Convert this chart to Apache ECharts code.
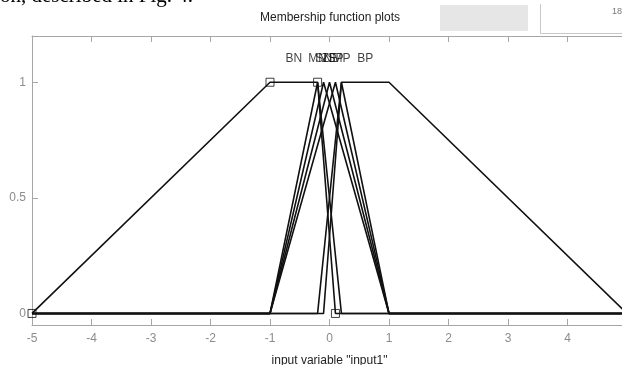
<!DOCTYPE html>
<html>
<head>
<meta charset="utf-8">
<script src="https://cdn.jsdelivr.net/npm/echarts@6/dist/echarts.min.js"></script>
<style>
  html, body { margin: 0; padding: 0; background: #fff; overflow: hidden; }
  #chart { width: 622px; height: 365px; }
</style>
</head>
<body>
<div id="chart"></div>
<script>
// Universe of discourse of the input variable
const xRange = [-5, 5];
const xTicks = [-5, -4, -3, -2, -1, 0, 1, 2, 3, 4, 5];
const yTicks = [0, 0.5, 1];

// Membership function names and parameters (trapmf: 4 params, trimf: 3 params)
const mfNames = ['BN', 'MN', 'SN', 'ZE', 'SP', 'MP', 'BP'];
const paramsBN = [-5, -1, -0.2, 0.1];
const paramsMN = [-1, -0.2, 0.2];
const paramsSN = [-1, -0.1, 1];
const paramsZE = [-1, 0, 1];
const paramsSP = [-1, 0.1, 1];
const paramsMP = [-0.2, 0.2, 1];
const paramsBP = [-0.1, 0.2, 1, 5];
const mfParams = [paramsBN, paramsMN, paramsSN, paramsZE, paramsSP, paramsMP, paramsBP];

// Selected function (vertices marked with squares)
const selectedMF = 'BN';

// Turn a trimf / trapmf parameter list into a polyline across the whole universe
function mfPolyline(p) {
  const pts = [];
  const grades = p.length === 3 ? [0, 1, 0] : [0, 1, 1, 0];
  if (p[0] > xRange[0]) pts.push([xRange[0], 0]);
  p.forEach((v, i) => pts.push([v, grades[i]]));
  if (p[p.length - 1] < xRange[1]) pts.push([xRange[1], 0]);
  return pts;
}
function mfPeak(p) {
  return p.length === 3 ? p[1] : (p[1] + p[2]) / 2;
}
function mfVertices(p) {
  const grades = p.length === 3 ? [0, 1, 0] : [0, 1, 1, 0];
  return p.map((v, i) => [v, grades[i]]);
}

const axisGray = '#a6a6a6';
const labelGray = '#8c8c8c';
const font = 'Liberation Sans, Arial, sans-serif';

const series = mfParams.map((p, i) => ({
  name: mfNames[i],
  type: 'line',
  data: mfPolyline(p),
  symbol: 'none',
  lineStyle: { color: '#111', width: 1.6 },
  animation: false,
  z: 3
}));

// Name tags above each function's peak
series.push({
  type: 'scatter',
  data: mfParams.map((p, i) => ({ value: [mfPeak(p), 1.1], name: mfNames[i] })),
  symbolSize: 0,
  label: {
    show: true, position: 'inside', formatter: d => d.name,
    color: '#111', fontSize: 12, fontFamily: font
  },
  animation: false,
  z: 4
});

// Square handles on the selected function's vertices
series.push({
  type: 'scatter',
  data: mfVertices(mfParams[mfNames.indexOf(selectedMF)]),
  symbol: 'rect',
  symbolSize: 8,
  itemStyle: { color: 'rgba(0,0,0,0)', borderColor: '#111', borderWidth: 1 },
  animation: false,
  z: 5
});

const chart = echarts.init(document.getElementById('chart'), null, { renderer: 'canvas' });
chart.setOption({
  backgroundColor: '#fff',
  animation: false,
  grid: { left: 32, right: -5, top: 36, bottom: 40, containLabel: false, outerBoundsMode: 'none' },
  xAxis: [{
    type: 'value', min: xRange[0], max: xRange[1], interval: 1,
    name: 'input variable "input1"', nameLocation: 'middle', nameGap: 30,
    nameTextStyle: { color: '#222', fontSize: 12, fontFamily: font },
    axisLine: { show: true, onZero: false, lineStyle: { color: axisGray, width: 1 } },
    axisTick: { show: true, inside: true, length: 6, lineStyle: { color: axisGray } },
    axisLabel: { show: true, color: labelGray, fontSize: 12, fontFamily: font, margin: 8,
      customValues: xTicks },
    splitLine: { show: false }
  }, {
    type: 'value', position: 'top', min: xRange[0], max: xRange[1], interval: 1,
    axisLine: { show: true, onZero: false, lineStyle: { color: axisGray, width: 1 } },
    axisTick: { show: true, inside: true, length: 6, lineStyle: { color: axisGray } },
    axisLabel: { show: false },
    splitLine: { show: false }
  }],
  yAxis: {
    type: 'value', min: -0.05, max: 1.2,
    axisLine: { show: true, onZero: false, lineStyle: { color: axisGray, width: 1 } },
    axisTick: { show: true, inside: true, length: 6, lineStyle: { color: axisGray },
      customValues: yTicks },
    axisLabel: { show: true, color: labelGray, fontSize: 12, fontFamily: font, margin: 6,
      customValues: yTicks },
    splitLine: { show: false }
  },
  series: series,
  graphic: [
    {
      type: 'text', left: 0, top: -14, silent: true,
      style: { text: 'on, described in Fig. 4.', font: '21px "Liberation Serif", serif', fill: '#000' }
    },
    {
      type: 'text', x: 330, y: 18, silent: true,
      style: { text: 'Membership function plots', font: '12px ' + font, fill: '#222',
        align: 'center', verticalAlign: 'middle' }
    },
    {
      type: 'rect', shape: { x: 440, y: 5, width: 88, height: 26 }, silent: true,
      style: { fill: '#e6e6e6' }
    },
    {
      type: 'polyline', shape: { points: [[540.5, 4], [540.5, 33.5], [622, 33.5]] }, silent: true,
      style: { stroke: '#c8c8c8', fill: null, lineWidth: 1 }
    },
    {
      type: 'text', x: 612, y: 12, silent: true,
      style: { text: '18', font: '9px ' + font, fill: '#777', verticalAlign: 'middle' }
    }
  ]
});
</script>
</body>
</html>
